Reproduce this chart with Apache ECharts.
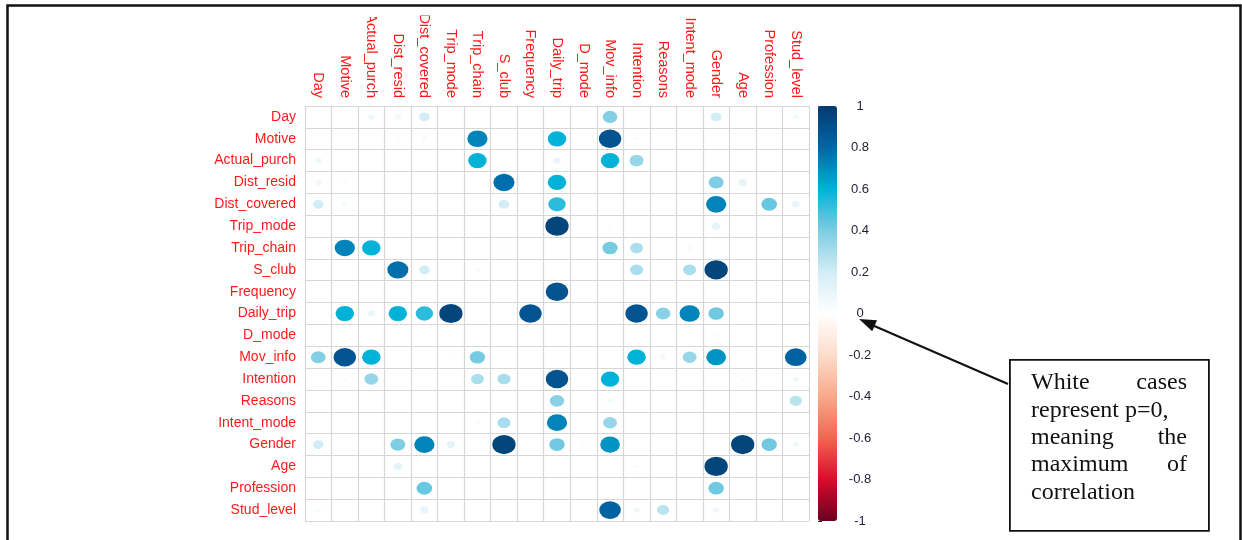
<!DOCTYPE html>
<html>
<head>
<meta charset="utf-8">
<script src="https://cdn.jsdelivr.net/npm/echarts@6/dist/echarts.min.js"></script>
<style>
  html, body { margin: 0; padding: 0; background: #fff; }
  #chart { width: 1242px; height: 540px; }
</style>
</head>
<body>
<div id="chart"></div>
<script>
// variable names, same order on both axes
const names = ['Day', 'Motive', 'Actual_purch', 'Dist_resid', 'Dist_covered', 'Trip_mode',
  'Trip_chain', 'S_club', 'Frequency', 'Daily_trip', 'D_mode', 'Mov_info', 'Intention',
  'Reasons', 'Intent_mode', 'Gender', 'Age', 'Profession', 'Stud_level'];

// correlation values (rows in the same order as names)
const corr = [
  [0, 0, .08, .07, .2, 0, 0, 0, 0, 0, 0, .38, 0, 0, 0, .2, 0, 0, .05],
  [0, 0, 0, .03, .05, 0, .72, 0, 0, .6, 0, .88, .04, 0, 0, 0, 0, 0, 0],
  [.08, 0, 0, 0, 0, 0, .6, 0, 0, .1, 0, .6, .34, 0, 0, 0, 0, 0, 0],
  [.07, .03, 0, 0, 0, 0, 0, .78, 0, .6, 0, 0, 0, 0, 0, .39, .12, 0, 0],
  [.2, .05, 0, 0, 0, 0, 0, .2, 0, .53, 0, 0, 0, 0, 0, .72, 0, .43, .11],
  [0, 0, 0, 0, 0, 0, 0, 0, 0, .95, 0, .03, 0, 0, 0, .12, 0, 0, 0],
  [0, .72, .6, 0, 0, 0, 0, .04, 0, 0, 0, .41, .29, 0, .04, 0, 0, 0, 0],
  [0, 0, 0, .78, .2, 0, .04, 0, 0, 0, 0, 0, .3, 0, .3, .95, 0, 0, 0],
  [0, 0, 0, 0, 0, 0, 0, 0, 0, .88, 0, 0, 0, 0, 0, 0, 0, 0, 0],
  [0, .6, .1, .6, .53, .95, 0, 0, .88, 0, 0, 0, .88, .37, .72, .42, 0, 0, 0],
  [0, 0, 0, 0, 0, 0, 0, 0, 0, 0, 0, 0, 0, 0, 0, .03, 0, 0, 0],
  [.38, .88, .6, 0, 0, .03, .41, 0, 0, 0, 0, 0, .6, .06, .34, .68, 0, 0, .82],
  [0, .04, .34, 0, 0, 0, .29, .3, 0, .88, 0, .6, 0, 0, 0, 0, .04, 0, .07],
  [0, 0, 0, 0, 0, 0, 0, 0, 0, .37, 0, .06, 0, 0, 0, 0, 0, 0, .26],
  [0, 0, 0, 0, 0, 0, .04, .3, 0, .72, 0, .34, 0, 0, 0, 0, 0, 0, 0],
  [.2, 0, 0, .39, .72, .12, 0, .95, 0, .42, .03, .68, 0, 0, 0, 0, .95, .42, .07],
  [0, 0, 0, .12, 0, 0, 0, 0, 0, 0, 0, 0, .04, 0, 0, .95, 0, 0, 0],
  [0, 0, 0, 0, .43, 0, 0, 0, 0, 0, 0, 0, 0, 0, 0, .42, 0, 0, 0],
  [.05, 0, 0, 0, .11, 0, 0, 0, 0, 0, 0, .82, .07, .26, 0, .07, 0, 0, 0]
];

// colour scale, from -1 up to 1
const palette = ['#6b0020', '#d80c2c', '#f26650', '#f8a98b', '#fddccb', '#ffffff',
  '#d2edf5', '#7ccce2', '#00b2d8', '#0066a6', '#053a6e'];

const noteLines = [
  ['White', 'cases'],
  ['represent p=0,', ''],
  ['meaning', 'the'],
  ['maximum', 'of'],
  ['correlation', '']
];

// layout of the matrix
const gLeft = 305, gTop = 106, gW = 504, gH = 415;
const cellW = gW / names.length, cellH = gH / names.length;

let points = [];
corr.forEach((row, i) => {
  row.forEach((v, j) => {
    if (v !== 0) points.push([j, i, v]);
  });
});

const chart = echarts.init(document.getElementById('chart'));

const noteGraphics = [];
noteLines.forEach((pair, k) => {
  const y = 383 + k * 27.4;
  noteGraphics.push({
    type: 'text', left: 1031, top: y - 12, z: 100,
    style: { text: pair[0], font: '24px "Liberation Serif"', fill: '#111' }
  });
  if (pair[1]) {
    noteGraphics.push({
      type: 'text', right: 1242 - 1187, top: y - 12, z: 100,
      style: { text: pair[1], font: '24px "Liberation Serif"', fill: '#111' }
    });
  }
});

chart.setOption({
  backgroundColor: '#fff',
  animation: false,
  grid: [
    { left: gLeft, top: gTop, width: gW, height: gH, containLabel: false },
    { left: 818, top: gTop, width: 19, height: gH, containLabel: false }
  ],
  xAxis: [
    {
      type: 'category', gridIndex: 0, position: 'top', data: names, boundaryGap: true,
      axisLine: { show: false }, axisTick: { show: false },
      axisLabel: { interval: 0, rotate: 90, margin: 8, color: '#ff1a1a', fontSize: 14.5, fontFamily: 'Liberation Sans' },
      splitLine: { show: true, interval: 0, lineStyle: { color: '#d6d6d6', width: 1.2 } }
    },
    { type: 'value', gridIndex: 1, show: false, min: 0, max: 1 }
  ],
  yAxis: [
    {
      type: 'category', gridIndex: 0, inverse: true, data: names, boundaryGap: true,
      axisLine: { show: false }, axisTick: { show: false },
      axisLabel: { interval: 0, margin: 9, color: '#ff1a1a', fontSize: 14, fontFamily: 'Liberation Sans' },
      splitLine: { show: true, interval: 0, lineStyle: { color: '#d6d6d6', width: 1.2 } }
    },
    {
      type: 'value', gridIndex: 1, position: 'right', min: -1, max: 1, interval: 0.2,
      axisLine: { show: false }, splitLine: { show: false },
      axisTick: { show: true, length: 4, lineStyle: { color: '#333' } },
      axisLabel: {
        margin: 23, align: 'center', color: '#22223a', fontSize: 13, fontFamily: 'Liberation Sans',
        formatter: v => String(+v.toFixed(1))
      }
    }
  ],
  visualMap: {
    type: 'continuous', min: -1, max: 1, dimension: 2, seriesIndex: 0,
    calculable: false, left: 818, top: gTop, padding: 0,
    itemWidth: 19, itemHeight: gH, text: null, showLabel: false,
    inRange: { color: palette }
  },
  series: [
    {
      type: 'scatter', xAxisIndex: 0, yAxisIndex: 0, symbol: 'circle',
      itemStyle: { opacity: 1 },
      symbolSize: v => {
        const s = 0.9 * Math.sqrt(Math.abs(v[2]));
        return [s * cellW, s * cellH];
      },
      data: points
    },
    { type: 'scatter', xAxisIndex: 1, yAxisIndex: 1, data: [] }
  ],
  graphic: [
    // the top of two column labels is cut off in the original
    {
      type: 'rect', left: 360, top: 6, z: 90,
      shape: { width: 22, height: 11 },
      style: { fill: '#fff' }
    },
    {
      type: 'rect', left: 413, top: 6, z: 90,
      shape: { width: 22, height: 9.5 },
      style: { fill: '#fff' }
    },
    {
      type: 'rect', left: 5, top: 3, z: 100,
      shape: { width: 1233, height: 560 },
      style: { fill: 'none', stroke: '#111', lineWidth: 2.5 }
    },
    {
      type: 'rect', left: 1009, top: 359, z: 100,
      shape: { width: 199, height: 171 },
      style: { fill: '#fff', stroke: '#111', lineWidth: 1.8 }
    },
    {
      type: 'line', z: 100,
      shape: { x1: 1008, y1: 384, x2: 872, y2: 325 },
      style: { stroke: '#111', lineWidth: 2 }
    },
    {
      type: 'polygon', z: 100,
      shape: { points: [[859, 319], [872.2, 331.3], [877, 320.3]] },
      style: { fill: '#111' }
    }
  ].concat(noteGraphics)
});
</script>
</body>
</html>
